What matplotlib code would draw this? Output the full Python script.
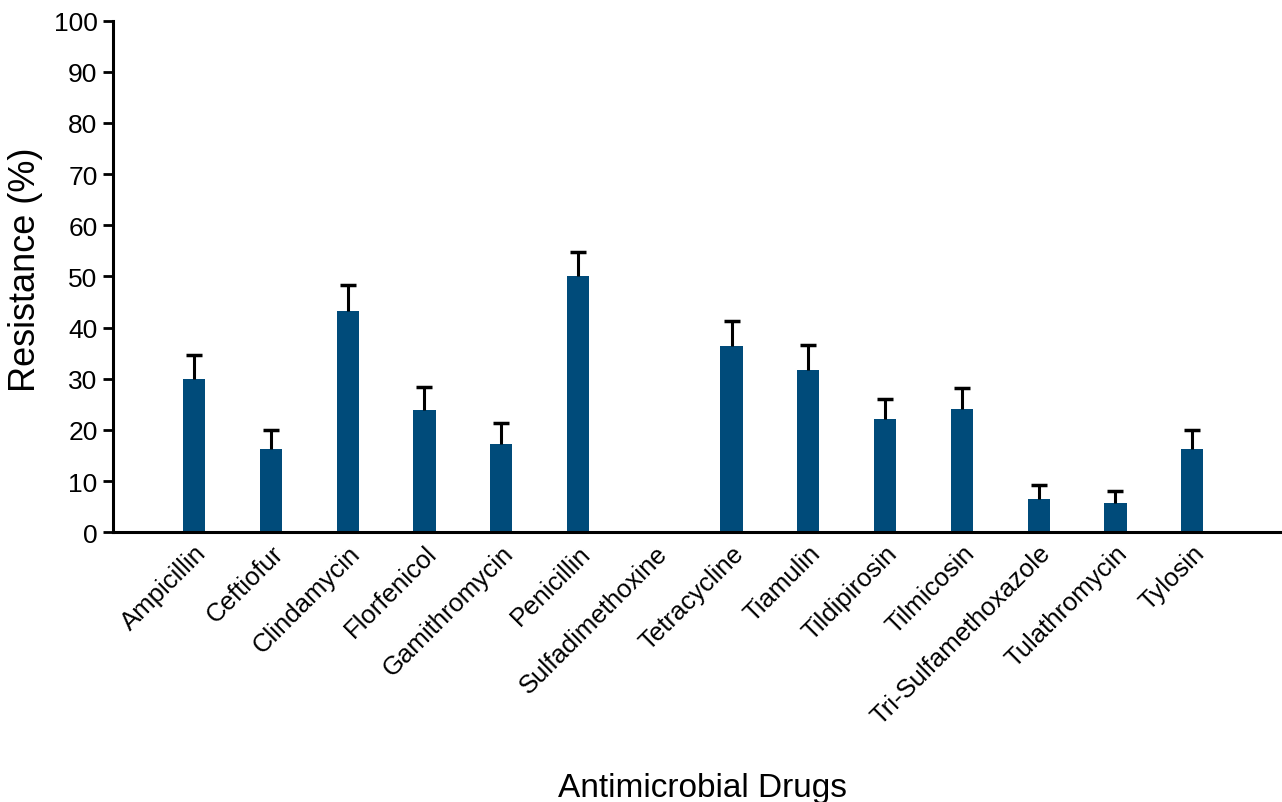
import matplotlib.pyplot as plt
import numpy as np

plt.rcParams['font.family'] = ['Liberation Sans', 'DejaVu Sans']

# Data
drugs = ['Ampicillin', 'Ceftiofur', 'Clindamycin', 'Florfenicol', 'Gamithromycin',
         'Penicillin', 'Sulfadimethoxine', 'Tetracycline', 'Tiamulin', 'Tildipirosin',
         'Tilmicosin', 'Tri-Sulfamethoxazole', 'Tulathromycin', 'Tylosin']
resistance = [30.0, 16.2, 43.2, 23.9, 17.2, 50.0, 0.0, 36.4, 31.7, 22.2, 24.0, 6.5, 5.7, 16.3]
error_upper = [4.6, 3.7, 5.1, 4.4, 4.1, 4.7, 0.0, 4.9, 4.8, 3.8, 4.2, 2.8, 2.3, 3.7]

bar_color = '#004b7a'

fig = plt.figure(figsize=(12.82, 8.03), dpi=100)
ax = fig.add_axes([0.088, 0.336, 0.912, 0.637])

x = np.arange(len(drugs))
ax.bar(x, resistance, width=0.29, color=bar_color, zorder=2)

# one-sided (upper) error bars, hide the lower caps
has_err = [i for i in x if error_upper[i] > 0]
eb = ax.errorbar([x[i] for i in has_err], [resistance[i] for i in has_err],
                 yerr=[[0] * len(has_err), [error_upper[i] for i in has_err]],
                 fmt='none', ecolor='black', elinewidth=2.2, capsize=6, capthick=2.5, zorder=3)
eb[1][0].set_visible(False)

ax.set_xlim(-1.06, 14.17)
ax.set_ylim(0, 100)
ax.set_yticks(np.arange(0, 101, 10))
ax.tick_params(axis='y', labelsize=19, width=2, length=7, direction='out', pad=4)
ax.tick_params(axis='x', length=0, pad=6)
ax.set_xticks(x)
ax.set_xticklabels(drugs, rotation=45, ha='right', rotation_mode='anchor', fontsize=18.5)

for side in ['top', 'right']:
    ax.spines[side].set_visible(False)
ax.spines['left'].set_linewidth(2.2)
ax.spines['bottom'].set_linewidth(2.2)

ax.set_ylabel('Resistance (%)', fontsize=26)
ax.yaxis.set_label_coords(-0.060, 0.515)
fig.text(0.548, 0.008, 'Antimicrobial Drugs', fontsize=24, ha='center', va='baseline')

fig.savefig('out.png', dpi=100)
